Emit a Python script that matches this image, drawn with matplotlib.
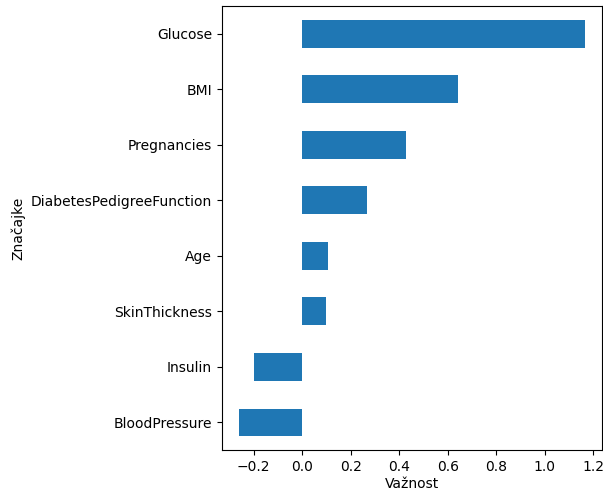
import matplotlib
matplotlib.use("Agg")
import matplotlib.pyplot as plt

# vaznost znacajki (odozdo prema gore)
features = ["BloodPressure", "Insulin", "SkinThickness", "Age",
            "DiabetesPedigreeFunction", "Pregnancies", "BMI", "Glucose"]
importance = [-0.26, -0.198, 0.098, 0.105, 0.266, 0.429, 0.642, 1.164]

fig = plt.figure(figsize=(6.03, 4.92), dpi=100)
ax = fig.add_axes([0.368, 0.085, 0.63, 0.903])
ax.barh(range(len(features)), importance, height=0.5, color="#1f77b4")
ax.set_yticks(range(len(features)))
ax.set_yticklabels(features)
ax.set_ylim(-0.5, len(features) - 0.5)
ax.margins(x=0.05)
ax.set_xlabel("Važnost", labelpad=2)
ax.set_ylabel("Značajke")
fig.savefig("out.png", dpi=100)
